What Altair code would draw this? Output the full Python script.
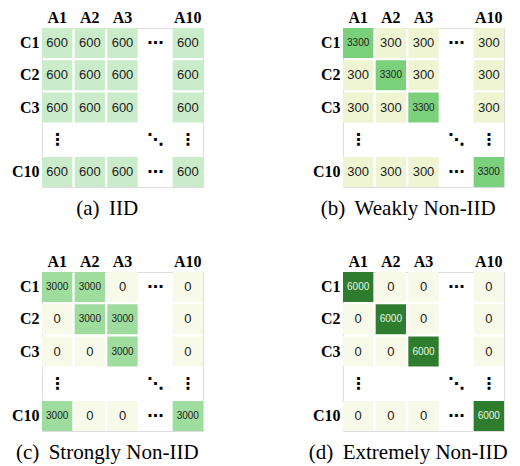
import altair as alt
import pandas as pd

# ---- data ----
COLS = ["A1", "A2", "A3", "A10"]
ROWS = ["C1", "C2", "C3", "C10"]
GAP_X = "gapx"
GAP_Y = "gapy"
X_ORDER = ["A1", "A2", "A3", GAP_X, "A10"]
Y_ORDER = ["C1", "C2", "C3", GAP_Y, "C10"]

iid = [[600, 600, 600, 600],
       [600, 600, 600, 600],
       [600, 600, 600, 600],
       [600, 600, 600, 600]]
weak = [[3300, 300, 300, 300],
        [300, 3300, 300, 300],
        [300, 300, 3300, 300],
        [300, 300, 300, 3300]]
strong = [[3000, 3000, 0, 0],
          [0, 3000, 3000, 0],
          [0, 0, 3000, 0],
          [3000, 0, 0, 3000]]
extreme = [[6000, 0, 0, 0],
           [0, 6000, 0, 0],
           [0, 0, 6000, 0],
           [0, 0, 0, 6000]]

titles = ["(a) \u2009IID", "(b) \u2009Weakly Non-IID",
          "(c) \u2009Strongly Non-IID", "(d) \u2009Extremely Non-IID"]
matrices = [iid, weak, strong, extreme]

color_values = [0, 300, 600, 3000, 3300, 6000]
color_range = ["#f7f9e9", "#eff5d3", "#cbeccb", "#9fdd9f", "#7bd17b", "#2e7d2e"]

dots_x = [GAP_X, GAP_X, "A1", "A10", GAP_X]
dots_y = ["C1", "C10", GAP_Y, GAP_Y, GAP_Y]
dots_glyph = ["⋯", "⋯", "⋮", "⋮", "⋱"]

# ---- chart ----
SERIF = "Liberation Serif, DejaVu Serif Condensed, DejaVu Serif"
SANS = "Liberation Sans, Roboto, Arial"

xscale = alt.Scale(domain=X_ORDER, paddingInner=0.07, paddingOuter=0)
yscale = alt.Scale(domain=Y_ORDER, paddingInner=0.07, paddingOuter=0)
xaxis = alt.Axis(orient="top", title=None, domain=False, ticks=False, labelAngle=0,
                 labelFont=SERIF, labelFontWeight="bold", labelFontSize=16,
                 labelColor="#000", labelPadding=3,
                 labelExpr=f"datum.value == '{GAP_X}' ? '' : datum.value")
yaxis = alt.Axis(orient="left", title=None, domain=False, ticks=False,
                 labelFont=SERIF, labelFontWeight="bold", labelFontSize=16,
                 labelColor="#000", labelPadding=3,
                 labelExpr=f"datum.value == '{GAP_Y}' ? '' : datum.value")

dots_df = pd.DataFrame({"col": dots_x, "row": dots_y, "g": dots_glyph})


def panel(mat, title):
    recs = []
    for i, r in enumerate(ROWS):
        for j, c in enumerate(COLS):
            recs.append({"row": r, "col": c, "v": mat[i][j]})
    df = pd.DataFrame(recs)
    base = alt.Chart(df).encode(
        x=alt.X("col:N", scale=xscale, axis=xaxis),
        y=alt.Y("row:N", scale=yscale, axis=yaxis),
    )
    rect = base.mark_rect().encode(
        color=alt.Color("v:O", scale=alt.Scale(domain=color_values, range=color_range), legend=None)
    )
    txt = base.mark_text(font=SANS).encode(
        text=alt.Text("v:Q", format="d"),
        size=alt.condition("datum.v >= 1000", alt.value(10), alt.value(13)),
        color=alt.condition("datum.v >= 5000", alt.value("#e8f5e8"), alt.value("#222222")),
    )
    dots = alt.Chart(dots_df).mark_text(font="DejaVu Sans", fontWeight="bold", fontSize=16,
                                        color="#000").encode(
        x=alt.X("col:N", scale=xscale, axis=xaxis),
        y=alt.Y("row:N", scale=yscale, axis=yaxis),
        text="g:N",
    )
    return alt.layer(rect, txt, dots).properties(
        width=161, height=159,
        title=alt.TitleParams(title, orient="bottom", font=SERIF, fontSize=21,
                              fontWeight="normal", color="#000", frame="bounds",
                              anchor="middle", offset=11),
    )


panels = [panel(m, t) for m, t in zip(matrices, titles)]

chart = alt.concat(*panels, columns=2, spacing={"row": 85, "column": 140},
                   bounds="flush").properties(
    padding={"left": 2, "top": 0, "right": 2, "bottom": 2}
).configure_view(stroke=None).configure(background="white")

chart.save("out.html", embed_options={"renderer": "svg", "actions": False})
